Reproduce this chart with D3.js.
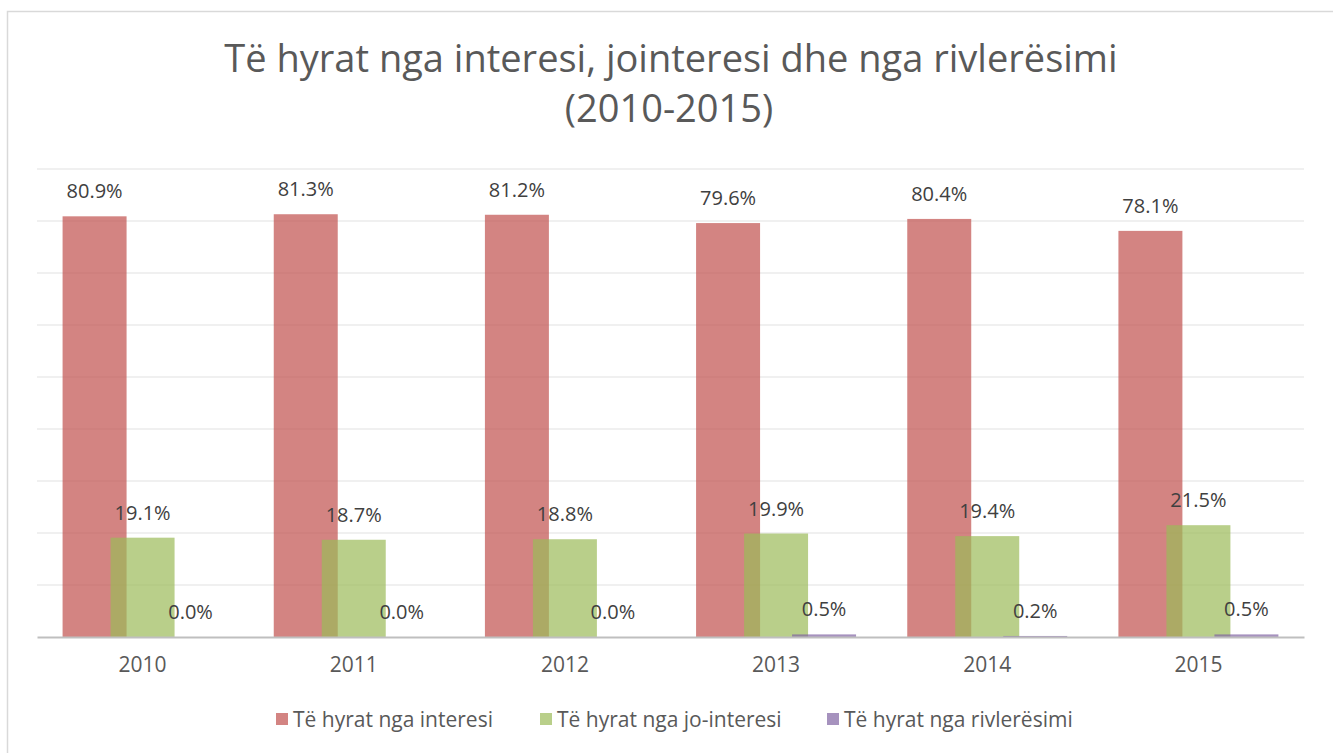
<!DOCTYPE html>
<html>
<head>
<meta charset="utf-8">
<script src="https://cdn.jsdelivr.net/npm/d3@7"></script>
<style>
  body { margin: 0; background: #fff; }
  svg { display: block; font-family: "Open Sans", sans-serif; }
</style>
</head>
<body>
<div id="chart"></div>
<script>
// Chart values
const years = ['2010', '2011', '2012', '2013', '2014', '2015'];
const interes = [80.9, 81.3, 81.2, 79.6, 80.4, 78.1];
const joInteres = [19.1, 18.7, 18.8, 19.9, 19.4, 21.5];
const rivleresim = [0.0, 0.0, 0.0, 0.5, 0.2, 0.5];
const seriesNames = ['Të hyrat nga interesi', 'Të hyrat nga jo-interesi', 'Të hyrat nga rivlerësimi'];
const seriesColors = ['#C0504D', '#9BBB59', '#8064A2'];
const yTicks = [0, 10, 20, 30, 40, 50, 60, 70, 80, 90];

const width = 1333, height = 753;

const svg = d3.select('#chart').append('svg')
  .attr('width', width)
  .attr('height', height);

// Outer frame
svg.append('rect')
  .attr('x', 7.5).attr('y', 11.5)
  .attr('width', 1340).attr('height', 760)
  .attr('fill', 'none')
  .attr('stroke', '#d9d9d9')
  .attr('stroke-width', 1.5);

// Title
const title = svg.append('text')
  .attr('text-anchor', 'middle')
  .attr('fill', '#595959')
  .style('font-size', '38px');
title.append('tspan').attr('x', 671).attr('y', 72).text('Të hyrat nga interesi, jointeresi dhe nga rivlerësimi');
title.append('tspan').attr('x', 669).attr('y', 122).text('(2010-2015)');

// Scales
const x = d3.scaleBand().domain(years).range([37, 1304]);
const y = d3.scaleLinear().domain([0, 90]).range([637, 169]);
const barW = x.bandwidth() * 0.303;
const offset = d3.scaleLinear().domain([0, 2]).range([-80, 16]);

// Gridlines
svg.append('g')
  .selectAll('line')
  .data(yTicks.slice(1))
  .join('line')
  .attr('x1', 37).attr('x2', 1304)
  .attr('y1', d => y(d)).attr('y2', d => y(d))
  .attr('stroke', '#ebebeb')
  .attr('stroke-width', 1.5);

// Bars and labels
const series = [interes, joInteres, rivleresim];
series.forEach((values, i) => {
  const g = svg.append('g');
  g.selectAll('rect')
    .data(values)
    .join('rect')
    .attr('x', (d, j) => x(years[j]) + x.bandwidth() / 2 + offset(i))
    .attr('y', d => y(d))
    .attr('width', barW)
    .attr('height', d => y(0) - y(d))
    .attr('fill', seriesColors[i])
    .attr('fill-opacity', 0.7);

  g.selectAll('text')
    .data(values)
    .join('text')
    .attr('x', (d, j) => x(years[j]) + x.bandwidth() / 2 + offset(i) + barW / 2)
    .attr('y', d => y(d) - 18)
    .attr('text-anchor', 'middle')
    .attr('fill', '#404040')
    .style('font-size', '20px')
    .text(d => d.toFixed(1) + '%');
});

// X axis
const xAxis = svg.append('g')
  .attr('transform', `translate(0,${y(0)})`)
  .call(d3.axisBottom(x).tickSize(0).tickPadding(20));
xAxis.select('.domain').attr('stroke', '#bfbfbf').attr('stroke-width', 2);
xAxis.selectAll('text')
  .attr('fill', '#595959')
  .style('font-size', '21px')
  .style('font-family', '"Open Sans", sans-serif');

// Legend
const legendX = [276, 540, 827];
const legend = svg.append('g')
  .selectAll('g')
  .data(seriesNames)
  .join('g')
  .attr('transform', (d, i) => `translate(${legendX[i]},0)`);
legend.append('rect')
  .attr('x', 0).attr('y', 713)
  .attr('width', 12).attr('height', 12)
  .attr('fill', (d, i) => seriesColors[i])
  .attr('fill-opacity', 0.7);
legend.append('text')
  .attr('x', 17).attr('y', 727)
  .attr('fill', '#595959')
  .style('font-size', '21px')
  .text(d => d);
</script>
</body>
</html>
